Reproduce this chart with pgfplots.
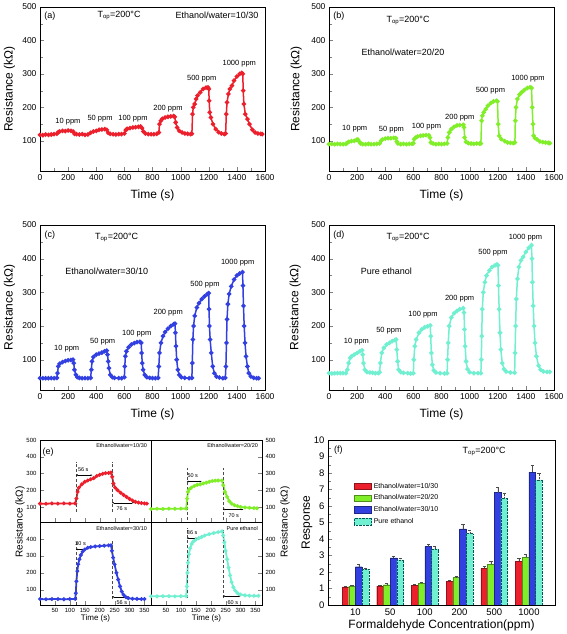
\documentclass[border=0pt]{standalone}
\usepackage{fontspec}
\setmainfont{Liberation Sans}
\usepackage{pgfplots}
\pgfplotsset{compat=1.18}
\usetikzlibrary{arrows.meta}
\definecolor{cred}{RGB}{236,32,44}
\definecolor{cgreen}{RGB}{128,238,40}
\definecolor{cblue}{RGB}{50,64,225}
\definecolor{ccyan}{RGB}{112,240,208}
\tikzset{
  ann/.style={font=\fontsize{7.5}{9}\selectfont},
  big/.style={font=\fontsize{9}{11}\selectfont},
  tiny/.style={font=\fontsize{5.5}{6.5}\selectfont},
}
\pgfplotsset{
  ts/.style={scale only axis, width=225pt, height=164pt,
    xmin=0, xmax=1600, ymin=10, ymax=500,
    xtick={0,200,...,1600}, minor x tick num=1,
    ytick={100,200,...,500}, minor y tick num=1,
    tick align=inside, tick pos=left,
    /pgf/number format/assume math mode=true,
    /pgf/number format/1000 sep={},
    ticklabel style={font=\fontsize{8.5}{10}\selectfont},
    label style={font=\fontsize{12}{14}\selectfont},
    xlabel={Time (s)}, ylabel={Resistance (kΩ)},
    xlabel style={at={(axis description cs:0.5,-0.146)}, anchor=center},
    ylabel style={at={(axis description cs:-0.135,0.5)}, anchor=center},
  },
  tsplot/.style={color=#1, mark=*, mark size=1.45pt, line width=1.5pt},
  es/.style={scale only axis, width=111pt, xmin=0, xmax=372, ymin=10, ymax=500,
    xtick={50,100,...,350}, tick align=inside,
    /pgf/number format/assume math mode=true,
    ticklabel style={font=\fontsize{6}{7}\selectfont},
    label style={font=\fontsize{8}{9}\selectfont},
  },
  eplot/.style={color=#1, mark=*, mark size=0.9pt, line width=1.8pt},
}
\begin{document}
\begin{tikzpicture}
\useasboundingbox (0,0) rectangle (567pt,634pt);

% ---------------- (a)
\begin{axis}[ts, at={(40pt,627pt)}, anchor=north west]
\addplot[tsplot=cred] coordinates {(0,118)(20,117)(40,119)(60,118)(80,119)(100,120)(120,121)(130,126)(140,128)(160,130)(180,129)(200,131)(220,130)(235,128)(245,121)(260,120)(280,119)(300,120)(320,118)(340,119)(360,124)(380,128)(400,130)(420,133)(440,134)(460,135)(475,133)(485,124)(500,121)(520,120)(540,119)(560,120)(580,120)(600,122)(610,132)(620,136)(640,138)(660,140)(680,141)(700,142)(715,143)(725,138)(735,128)(750,122)(770,120)(790,120)(810,120)(830,121)(845,125)(850,150)(860,160)(870,166)(890,170)(910,172)(930,173)(950,174)(958,172)(965,155)(975,140)(990,130)(1010,125)(1030,122)(1050,121)(1070,120)(1080,121)(1085,180)(1090,200)(1100,210)(1110,225)(1120,235)(1140,245)(1160,255)(1180,259)(1195,260)(1200,255)(1203,220)(1207,185)(1215,170)(1230,150)(1250,135)(1270,126)(1290,122)(1310,120)(1320,122)(1325,180)(1330,215)(1340,240)(1350,255)(1365,265)(1380,280)(1400,292)(1420,300)(1435,303)(1442,300)(1445,250)(1450,210)(1460,180)(1475,165)(1490,150)(1510,133)(1530,125)(1550,122)(1570,121)(1580,120)};
\node[big] at (axis cs:70,474) {(a)};
\node[big] at (axis cs:562,474) {T\textsubscript{op}=200°C};
\node[big] at (axis cs:1259,476) {Ethanol/water=10/30};
\node[ann] at (axis cs:199,156) {10 ppm};
\node[ann] at (axis cs:427,165) {50 ppm};
\node[ann] at (axis cs:661,166) {100 ppm};
\node[ann] at (axis cs:910,197) {200 ppm};
\node[ann] at (axis cs:1150,286) {500 ppm};
\node[ann] at (axis cs:1417,330) {1000 ppm};
\end{axis}

% ---------------- (b)
\begin{axis}[ts, at={(329pt,627pt)}, anchor=north west, ylabel style={at={(axis description cs:-0.145,0.5)}}]
\addplot[tsplot=cgreen] coordinates {(0,90)(20,91)(40,90)(60,91)(80,90)(100,90)(120,91)(130,94)(140,97)(160,99)(180,100)(195,103)(205,104)(215,98)(225,92)(240,90)(260,90)(280,91)(300,90)(320,90)(340,91)(360,92)(370,100)(380,104)(400,107)(420,108)(440,108)(460,109)(475,108)(482,98)(490,92)(510,90)(530,91)(550,90)(570,91)(590,91)(600,93)(605,105)(615,110)(630,113)(650,115)(670,116)(690,117)(710,117)(718,110)(725,95)(740,92)(760,90)(780,91)(800,90)(820,91)(840,92)(845,110)(855,125)(870,135)(890,142)(910,146)(930,147)(955,148)(960,140)(965,110)(975,97)(990,93)(1010,92)(1030,91)(1050,92)(1070,92)(1080,92)(1085,160)(1090,175)(1100,185)(1115,195)(1130,205)(1150,213)(1170,218)(1190,220)(1198,218)(1203,150)(1210,115)(1225,105)(1250,99)(1270,95)(1290,94)(1310,93)(1322,95)(1325,160)(1330,200)(1340,225)(1355,238)(1370,245)(1390,252)(1410,258)(1430,260)(1440,258)(1445,200)(1450,150)(1455,115)(1465,108)(1480,104)(1500,98)(1520,96)(1540,95)(1560,94)(1570,93)};
\node[big] at (axis cs:71,474) {(b)};
\node[big] at (axis cs:562,461) {T\textsubscript{op}=200°C};
\node[big] at (axis cs:526,366) {Ethanol/water=20/20};
\node[ann] at (axis cs:183,137) {10 ppm};
\node[ann] at (axis cs:444,132) {50 ppm};
\node[ann] at (axis cs:693,142) {100 ppm};
\node[ann] at (axis cs:930,170) {200 ppm};
\node[ann] at (axis cs:1148,249) {500 ppm};
\node[ann] at (axis cs:1415,287) {1000 ppm};
\end{axis}

% ---------------- (c)
\begin{axis}[ts, height=165pt, at={(40pt,409pt)}, anchor=north west]
\addplot[tsplot=cblue] coordinates {(0,45)(20,45)(40,45)(60,45)(80,45)(100,45)(120,46)(125,60)(130,80)(140,88)(160,93)(180,96)(200,98)(220,99)(235,100)(240,90)(245,70)(255,55)(265,48)(280,46)(300,45)(320,45)(340,45)(360,46)(365,70)(370,95)(380,108)(400,115)(420,118)(440,121)(460,125)(475,127)(480,115)(485,95)(490,75)(500,55)(515,48)(530,46)(560,45)(580,45)(600,48)(603,80)(607,110)(615,125)(630,137)(650,145)(670,149)(690,152)(710,153)(720,150)(723,120)(727,90)(733,70)(745,55)(760,48)(780,46)(800,45)(820,45)(840,46)(845,80)(850,120)(860,150)(875,170)(890,182)(910,192)(930,200)(950,205)(960,207)(963,180)(967,140)(972,100)(980,70)(990,55)(1005,48)(1030,46)(1060,45)(1080,46)(1083,90)(1087,160)(1092,200)(1100,230)(1115,255)(1130,268)(1150,280)(1170,288)(1190,295)(1200,298)(1202,250)(1205,200)(1210,160)(1218,120)(1228,80)(1240,60)(1255,50)(1275,47)(1300,45)(1318,46)(1322,80)(1326,150)(1330,220)(1336,265)(1345,295)(1360,318)(1380,338)(1400,350)(1420,356)(1440,360)(1443,320)(1447,260)(1452,200)(1458,150)(1465,110)(1475,80)(1485,60)(1500,50)(1520,46)(1540,45)(1555,45)};
\node[big] at (axis cs:71,470) {(c)};
\node[big] at (axis cs:545,462) {T\textsubscript{op}=200°C};
\node[big] at (axis cs:474,364) {Ethanol/water=30/10};
\node[ann] at (axis cs:190,132) {10 ppm};
\node[ann] at (axis cs:446,153) {50 ppm};
\node[ann] at (axis cs:688,176) {100 ppm};
\node[ann] at (axis cs:912,240) {200 ppm};
\node[ann] at (axis cs:1173,324) {500 ppm};
\node[ann] at (axis cs:1406,388) {1000 ppm};
\end{axis}

% ---------------- (d)
\begin{axis}[ts, height=165pt, at={(329pt,409pt)}, anchor=north west, ylabel style={at={(axis description cs:-0.15,0.5)}}]
\addplot[tsplot=ccyan] coordinates {(0,60)(20,59)(40,60)(60,60)(80,60)(100,60)(120,60)(130,70)(140,90)(150,105)(160,110)(180,115)(200,120)(220,125)(235,128)(240,115)(245,90)(255,70)(270,63)(290,62)(310,61)(330,60)(350,60)(360,63)(365,90)(375,120)(390,135)(410,145)(430,150)(450,155)(470,158)(478,160)(482,130)(488,95)(495,70)(510,63)(530,61)(560,60)(580,59)(600,60)(603,100)(610,140)(620,160)(640,180)(660,190)(680,196)(700,199)(720,202)(723,170)(728,120)(735,85)(745,68)(760,62)(790,60)(820,59)(840,60)(843,100)(848,150)(855,200)(870,225)(890,238)(910,245)(930,250)(955,253)(960,240)(964,190)(968,140)(975,95)(985,72)(1000,63)(1030,60)(1060,60)(1080,60)(1083,100)(1086,170)(1090,250)(1097,300)(1108,330)(1120,350)(1140,365)(1160,375)(1180,380)(1195,383)(1202,380)(1205,320)(1210,250)(1216,180)(1222,130)(1232,90)(1245,72)(1260,65)(1290,62)(1320,61)(1323,120)(1327,200)(1332,280)(1340,340)(1350,375)(1365,395)(1380,405)(1400,420)(1420,432)(1440,440)(1443,400)(1447,330)(1452,260)(1458,200)(1465,150)(1475,110)(1490,82)(1505,70)(1525,65)(1550,64)(1570,64)};
\node[big] at (axis cs:71,470) {(d)};
\node[big] at (axis cs:562,462) {T\textsubscript{op}=200°C};
\node[big] at (axis cs:408,364) {Pure ethanol};
\node[ann] at (axis cs:195,153) {10 ppm};
\node[ann] at (axis cs:425,185) {50 ppm};
\node[ann] at (axis cs:669,235) {100 ppm};
\node[ann] at (axis cs:929,282) {200 ppm};
\node[ann] at (axis cs:1166,418) {500 ppm};
\node[ann] at (axis cs:1397,462) {1000 ppm};
\end{axis}

% ---------------- (e) top-left
\begin{axis}[es, height=82pt, at={(40pt,194pt)}, anchor=north west,
  ytick={100,200,...,500}, ytick pos=left, xtick pos=left, xticklabels={}]
\addplot[eplot=cred] coordinates {(0,120)(20,119)(40,121)(60,120)(80,121)(100,120)(118,121)(122,150)(126,190)(130,215)(140,235)(150,250)(160,258)(170,265)(180,272)(190,285)(200,292)(210,298)(220,302)(230,303)(238,305)(242,280)(246,240)(252,215)(260,200)(270,185)(280,172)(290,160)(300,148)(310,138)(320,130)(330,126)(340,123)(350,121)(358,120)};
\draw[densely dashed, gray!60!black, very thin] (axis cs:120,70) -- (axis cs:120,370);
\draw[densely dashed, gray!60!black, very thin] (axis cs:240,70) -- (axis cs:240,370);
\draw[{Latex[length=2pt]}-{Latex[length=2pt]}, very thin] (axis cs:120,290) -- (axis cs:176,290);
\node[tiny, anchor=south] at (axis cs:145,290) {56 s};
\draw[{Latex[length=2pt]}-{Latex[length=2pt]}, very thin] (axis cs:240,125) -- (axis cs:316,125);
\node[tiny, anchor=north west] at (axis cs:245,120) {76 s};
\node[font=\fontsize{9}{10}\selectfont] at (axis cs:27,430) {(e)};
\node[tiny, anchor=east] at (axis cs:370,468) {Ethanol/water=10/30};
\end{axis}

% ---------------- (e) top-right
\begin{axis}[es, height=82pt, at={(151pt,194pt)}, anchor=north west,
  ytick={100,200,...,500}, ytick pos=right, yticklabel pos=right, xtick pos=left, xticklabels={}]
\addplot[eplot=cgreen] coordinates {(0,88)(20,89)(40,88)(60,90)(80,89)(100,90)(118,90)(121,150)(124,190)(128,205)(135,215)(145,225)(155,232)(165,235)(175,240)(185,245)(195,250)(205,255)(215,257)(225,258)(238,258)(242,230)(248,190)(255,160)(262,135)(270,120)(280,110)(290,105)(300,100)(315,97)(330,95)(345,93)(355,92)};
\draw[densely dashed, gray!60!black, very thin] (axis cs:120,20) -- (axis cs:120,335);
\draw[densely dashed, gray!60!black, very thin] (axis cs:240,20) -- (axis cs:240,335);
\draw[{Latex[length=2pt]}-{Latex[length=2pt]}, very thin] (axis cs:120,252) -- (axis cs:170,252);
\node[tiny, anchor=south] at (axis cs:140,252) {50 s};
\draw[{Latex[length=2pt]}-{Latex[length=2pt]}, very thin] (axis cs:240,85) -- (axis cs:310,85);
\node[tiny, anchor=north west] at (axis cs:248,80) {70 s};
\node[tiny, anchor=east] at (axis cs:370,468) {Ethanol/water=20/20};
\end{axis}

% ---------------- (e) bottom-left
\begin{axis}[es, height=83pt, at={(40pt,112pt)}, anchor=north west,
  ytick={100,200,...,400}, ytick pos=left, xtick pos=left,
  xlabel={Time (s)}, xlabel style={at={(axis description cs:0.5,-0.16)}, anchor=center}]
\addplot[eplot=cblue] coordinates {(0,45)(20,44)(40,45)(60,45)(80,44)(100,45)(118,46)(120,80)(122,150)(125,210)(128,250)(132,280)(137,305)(143,325)(150,338)(160,348)(170,352)(185,356)(200,358)(215,360)(230,362)(238,363)(241,330)(245,290)(250,250)(256,200)(262,160)(268,120)(274,90)(280,70)(288,56)(296,50)(310,47)(325,46)(340,45)(350,45)};
\draw[densely dashed, gray!60!black, very thin] (axis cs:120,10) -- (axis cs:120,385);
\draw[densely dashed, gray!60!black, very thin] (axis cs:240,45) -- (axis cs:240,385);
\draw[{Latex[length=2pt]}-{Latex[length=2pt]}, very thin] (axis cs:120,338) -- (axis cs:150,338);
\node[tiny, anchor=south] at (axis cs:136,338) {30 s};
\draw[{Latex[length=2pt]}-{Latex[length=2pt]}, very thin] (axis cs:240,58) -- (axis cs:296,58);
\node[tiny, anchor=north west] at (axis cs:245,54) {56 s};
\node[tiny, anchor=east] at (axis cs:370,463) {Ethanol/water=30/10};
\end{axis}

% ---------------- (e) bottom-right
\begin{axis}[es, height=83pt, at={(151pt,112pt)}, anchor=north west,
  ytick={100,200,...,400}, ytick pos=right, yticklabel pos=right, xtick pos=left,
  xlabel={Time (s)}, xlabel style={at={(axis description cs:0.5,-0.16)}, anchor=center}]
\addplot[eplot=ccyan] coordinates {(0,62)(20,61)(40,62)(60,62)(80,61)(100,62)(118,62)(120,120)(122,200)(124,260)(127,310)(131,345)(136,370)(142,385)(150,395)(160,405)(170,412)(180,420)(195,428)(210,435)(225,440)(238,445)(242,420)(246,380)(250,330)(255,280)(260,230)(265,185)(270,145)(276,115)(282,95)(290,80)(300,72)(315,67)(330,65)(345,64)(360,64)};
\draw[densely dashed, gray!60!black, very thin] (axis cs:120,50) -- (axis cs:120,465);
\draw[densely dashed, gray!60!black, very thin] (axis cs:240,50) -- (axis cs:240,460);
\draw[{Latex[length=2pt]}-{Latex[length=2pt]}, very thin] (axis cs:120,404) -- (axis cs:156,404);
\node[tiny, anchor=south] at (axis cs:138,404) {36 s};
\draw[{Latex[length=2pt]}-{Latex[length=2pt]}, very thin] (axis cs:240,62) -- (axis cs:300,62);
\node[tiny, anchor=north west] at (axis cs:245,58) {60 s};
\node[tiny, anchor=east] at (axis cs:370,463) {Pure ethanol};
\end{axis}
\node[rotate=90, font=\fontsize{10}{12}\selectfont] at (20pt,112pt) {Resistance (kΩ)};
\node[rotate=90, font=\fontsize{10}{12}\selectfont] at (285pt,112pt) {Resistance (kΩ)};

% ---------------- (f)
\begin{axis}[scale only axis, width=227pt, height=165pt, at={(328pt,194pt)}, anchor=north west,
  ybar=0pt, bar width=6.7pt,
  xmin=-0.79, xmax=5.75, ymin=0, ymax=10,
  xtick={0,...,5}, xticklabels={10,50,100,200,500,1000},
  ytick={0,1,...,10}, minor y tick num=1,
  tick align=inside, tick pos=left,
  /pgf/number format/assume math mode=true,
  ticklabel style={font=\fontsize{9.5}{11}\selectfont},
  label style={font=\fontsize{12}{14}\selectfont},
  xlabel={Formaldehyde Concentration(ppm)}, ylabel={Response},
  xlabel style={at={(axis description cs:0.5,-0.121)}, anchor=center},
  ylabel style={at={(axis description cs:-0.093,0.5)}, anchor=center},
  legend style={at={(axis description cs:0.1,0.765)}, anchor=north west, draw=none, fill=none,
    font=\fontsize{7}{8}\selectfont, row sep=1.2pt},
  legend cell align=left,
  legend image code/.code={\draw[#1] (0pt,-3.3pt) rectangle (17.5pt,3.3pt);},
  error bars/y dir=plus, error bars/y explicit,
  error bars/error bar style={very thin, black!70},
  error bars/error mark options={rotate=90, mark size=1.6pt, very thin, black!70},
]
\addplot[fill=cred, draw=cred!60!black] coordinates {(0,1.10)+-(0,0.06) (1,1.14)+-(0,0.06) (2,1.20)+-(0,0.06) (3,1.45)+-(0,0.08) (4,2.22)+-(0,0.14) (5,2.66)+-(0,0.16)};
\addplot[fill=cgreen, draw=cgreen!60!black] coordinates {(0,1.15)+-(0,0.06) (1,1.23)+-(0,0.07) (2,1.31)+-(0,0.08) (3,1.66)+-(0,0.10) (4,2.46)+-(0,0.20) (5,2.89)+-(0,0.20)};
\addplot[fill=cblue, draw=cblue!60!black] coordinates {(0,2.32)+-(0,0.14) (1,2.86)+-(0,0.13) (2,3.54)+-(0,0.14) (3,4.61)+-(0,0.28) (4,6.81)+-(0,0.34) (5,8.06)+-(0,0.40)};
\addplot[fill=ccyan, draw=teal!70!black, densely dotted] coordinates {(0,2.17)+-(0,0.09) (1,2.73)+-(0,0.13) (2,3.40)+-(0,0.18) (3,4.34)+-(0,0.22) (4,6.46)+-(0,0.31) (5,7.58)+-(0,0.40)};
\legend{Ethanol/water=10/30, Ethanol/water=20/20, Ethanol/water=30/10, Pure ethanol}
\node[font=\fontsize{9}{11}\selectfont] at (axis cs:-0.49,9.4) {(f)};
\node[big] at (axis cs:3.71,9.29) {T\textsubscript{op}=200°C};
\end{axis}
\end{tikzpicture}
\end{document}
